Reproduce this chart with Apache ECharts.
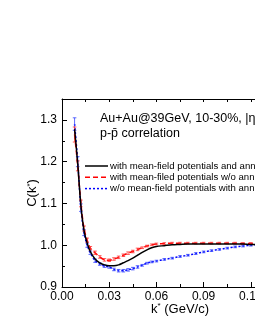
<!DOCTYPE html>
<html>
<head>
<meta charset="utf-8">
<script src="https://cdn.jsdelivr.net/npm/echarts@6/dist/echarts.min.js"></script>
<style>html,body{margin:0;padding:0;background:#fff}#c{width:255px;height:330px}</style>
</head>
<body>
<div id="c"></div>
<script>
const kStar = [0.008,0.010,0.012,0.014,0.016,0.018,0.021,0.024,0.027,0.030,0.033,0.036,0.039,0.042,0.045,0.048,0.051,0.054,0.057,0.060,0.065,0.070,0.075,0.080,0.085,0.090,0.095,0.100,0.105,0.110,0.115,0.120,0.125,0.130];
const withMfAnn = [1.278,1.195,1.095,1.035,1.005,0.985,0.967,0.958,0.953,0.951,0.951,0.953,0.958,0.963,0.969,0.976,0.983,0.989,0.994,0.997,0.999,1.001,1.002,1.003,1.003,1.003,1.003,1.003,1.003,1.003,1.003,1.002,1.002,1.002];
const withMfNoAnn = [1.265,1.19,1.10,1.04,1.012,0.993,0.982,0.972,0.965,0.964,0.967,0.971,0.976,0.981,0.985,0.990,0.994,0.998,1.001,1.003,1.004,1.005,1.005,1.005,1.005,1.005,1.005,1.005,1.005,1.005,1.004,1.004,1.004,1.004];
const noMfWithAnn = [1.29,1.20,1.09,1.03,1.00,0.982,0.963,0.955,0.950,0.948,0.942,0.939,0.939,0.941,0.944,0.948,0.952,0.957,0.960,0.962,0.966,0.969,0.973,0.976,0.980,0.984,0.987,0.990,0.993,0.996,0.998,1.000,1.001,1.001];
const errNoAnn = [0.018,0.012,0.008,0.006,0.005,0.004,0.004,0.003,0.003,0.003,0.003,0.003,0.003,0.003,0.003,0.003,0.002,0.002,0.002,0.002,0.002,0.002,0.002,0.002,0.002,0.002,0.002,0.002,0.002,0.002,0.002,0.002,0.002,0.002];
const errNoMf = [0.015,0.012,0.009,0.007,0.005,0.004,0.004,0.003,0.003,0.003,0.003,0.003,0.003,0.003,0.003,0.003,0.002,0.002,0.002,0.002,0.002,0.002,0.002,0.002,0.002,0.002,0.002,0.002,0.002,0.002,0.002,0.002,0.002,0.002];
const names = ['with mean-field potentials and ann','with mean-filed potentials w/o ann','w/o mean-field potentials with ann'];
const yTicks = [0.9,1.0,1.1,1.2,1.3];

const FONT = 'Liberation Sans, Arial, sans-serif';
function pairs(v){ return kStar.map((x,i)=>[x,v[i]]); }
function errSeries(vals, errs, color){
  return {
    type:'custom', silent:true, z:3,
    renderItem:(params, api)=>{
      const x=api.value(0), y=api.value(1), e=api.value(2);
      const lo=api.coord([x,y-e]), hi=api.coord([x,y+e]);
      const w=1.8, st={stroke:color,lineWidth:0.8};
      return {type:'group', children:[
        {type:'line', shape:{x1:lo[0],y1:lo[1],x2:hi[0],y2:hi[1]}, style:st},
        {type:'line', shape:{x1:lo[0]-w,y1:lo[1],x2:lo[0]+w,y2:lo[1]}, style:st},
        {type:'line', shape:{x1:hi[0]-w,y1:hi[1],x2:hi[0]+w,y2:hi[1]}, style:st}
      ]};
    },
    data: kStar.map((x,i)=>[x, vals[i], errs[i]])
  };
}
const legendColors = ['#000','#ff0000','#0000ff'];
const legendDash = [null,[5,3],[2,2]];
const legendGraphics = [];
names.forEach((n,i)=>{
  const y = 166 + i*11.3;
  legendGraphics.push({type:'line', shape:{x1:85,y1:y,x2:108,y2:y}, style:{stroke:legendColors[i], lineWidth:1.5, lineDash:legendDash[i]}});
  legendGraphics.push({type:'text', x:110, y:y, style:{text:n, fontSize:9.6, fontFamily:FONT, fill:'#000', verticalAlign:'middle'}});
});

const chart = echarts.init(document.getElementById('c'), null, {renderer:'canvas'});
const axLine = {show:true, lineStyle:{color:'#000', width:1}};
chart.setOption({
  animation:false,
  backgroundColor:'#fff',
  grid:{left:62, top:99, bottom:43, width:236, containLabel:false, outerBoundsMode:'none'},
  xAxis:[{
    type:'value', min:0, max:0.15, interval:0.03, position:'bottom',
    axisLine:axLine,
    axisTick:{show:true, inside:true, length:5, lineStyle:{color:'#000'}},
    minorTick:{show:true, splitNumber:2, length:3, lineStyle:{color:'#000'}},
    splitLine:{show:false},
    axisLabel:{color:'#000', fontSize:12, fontFamily:FONT, margin:4, formatter:v=>v.toFixed(2)},
    name:'{n|k}{s|*}{n| (GeV/c)}', nameLocation:'middle', nameGap:15, nameMoveOverlap:false,
    nameTextStyle:{color:'#000', fontFamily:FONT, rich:{n:{fontSize:13, fontFamily:FONT, color:'#000'}, s:{fontSize:8, fontFamily:FONT, color:'#000', verticalAlign:'top', padding:[0,0,6,0]}}}
  },{
    type:'value', min:0, max:0.15, interval:0.015, position:'top',
    axisLine:axLine,
    axisTick:{show:true, inside:true, length:3, lineStyle:{color:'#000'}},
    axisLabel:{show:false}, splitLine:{show:false}
  }],
  yAxis:{
    type:'value', min:0.9, max:1.35, interval:0.1,
    axisLine:axLine,
    axisTick:{show:true, inside:true, length:5, lineStyle:{color:'#000'}},
    minorTick:{show:true, splitNumber:2, length:3, lineStyle:{color:'#000'}},
    splitLine:{show:false},
    axisLabel:{color:'#000', fontSize:12, fontFamily:FONT, margin:5, showMaxLabel:false,
      formatter:v=>{ const t=yTicks.find(q=>Math.abs(q-v)<1e-6); return t===undefined?'':t.toFixed(1); }},
    name:'{n|C(k}{s|*}{n|)}', nameLocation:'middle', nameGap:23, nameRotate:90, nameMoveOverlap:false,
    nameTextStyle:{color:'#000', fontFamily:FONT, rich:{n:{fontSize:13, fontFamily:FONT, color:'#000'}, s:{fontSize:8, fontFamily:FONT, color:'#000', verticalAlign:'top'}}}
  },
  graphic:[
    {type:'text', left:100, top:112, style:{text:'Au+Au@39GeV, 10-30%, |η', fontSize:12.5, fontFamily:FONT, fill:'#000'}},
    {type:'text', left:100, top:127, style:{text:'p-p\u0304 correlation', fontSize:12.5, fontFamily:FONT, fill:'#000'}}
  ].concat(legendGraphics),
  series:[
    {name:names[2], type:'line', data:pairs(noMfWithAnn), showSymbol:false, symbol:'none', smooth:0.3, z:2,
     lineStyle:{color:'#0000ff', width:1.5, type:[2,2]}, itemStyle:{color:'#0000ff'}},
    errSeries(noMfWithAnn, errNoMf, '#3344ff'),
    {name:names[1], type:'line', data:pairs(withMfNoAnn), showSymbol:false, symbol:'none', smooth:0.3, z:2,
     lineStyle:{color:'#ff0000', width:1.5, type:[5,3]}, itemStyle:{color:'#ff0000'}},
    errSeries(withMfNoAnn, errNoAnn, '#ff3333'),
    {name:names[0], type:'line', data:pairs(withMfAnn), showSymbol:false, symbol:'none', smooth:0.3, z:4,
     lineStyle:{color:'#000', width:1.5}, itemStyle:{color:'#000'}}
  ]
});
</script>
</body>
</html>
